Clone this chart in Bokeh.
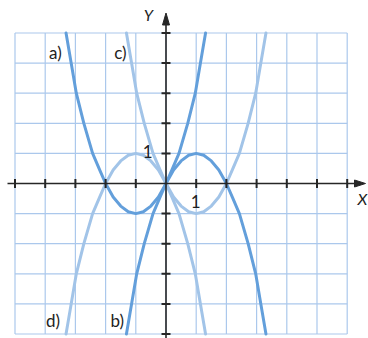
from bokeh.plotting import figure
from bokeh.models import Range1d, Label
from bokeh.embed import file_html
from bokeh.resources import INLINE

# ---- data ----
grid_x = [-5, -4, -3, -2, -1, 0, 1, 2, 3, 4, 5, 6]
grid_y = [-5, -4, -3, -2, -1, 0, 1, 2, 3, 4, 5]

a_x = [-3.31, -3.14, -2.97, -2.72, -2.43, -2.2, -2.0, -1.75, -1.5, -1.25, -1.0,
       -0.75, -0.5, -0.25, 0.0, 0.2, 0.43, 0.72, 0.97, 1.14, 1.31]
a_y = [5, 4, 3, 2, 1, 0.46, 0, -0.45, -0.75, -0.94, -1,
       -0.94, -0.75, -0.45, 0, 0.46, 1, 2, 3, 4, 5]

b_x = [-1.31, -1.14, -0.97, -0.72, -0.43, -0.2, 0.0, 0.25, 0.5, 0.75, 1.0,
       1.25, 1.5, 1.75, 2.0, 2.2, 2.43, 2.72, 2.97, 3.14, 3.31]
b_y = [-5, -4, -3, -2, -1, -0.46, 0, 0.45, 0.75, 0.94, 1,
       0.94, 0.75, 0.45, 0, -0.46, -1, -2, -3, -4, -5]

c_x = [-1.31, -1.14, -0.97, -0.72, -0.43, -0.2, 0.0, 0.25, 0.5, 0.75, 1.0,
       1.25, 1.5, 1.75, 2.0, 2.2, 2.43, 2.72, 2.97, 3.14, 3.31]
c_y = [5, 4, 3, 2, 1, 0.46, 0, -0.45, -0.75, -0.94, -1,
       -0.94, -0.75, -0.45, 0, 0.46, 1, 2, 3, 4, 5]

d_x = [-3.31, -3.14, -2.97, -2.72, -2.43, -2.2, -2.0, -1.75, -1.5, -1.25, -1.0,
       -0.75, -0.5, -0.25, 0.0, 0.2, 0.43, 0.72, 0.97, 1.14, 1.31]
d_y = [-5, -4, -3, -2, -1, -0.46, 0, 0.45, 0.75, 0.94, 1,
       0.94, 0.75, 0.45, 0, -0.46, -1, -2, -3, -4, -5]

curve_labels = ["a)", "c)", "d)", "b)"]
label_x = [-3.66, -1.51, -3.74, -1.61]
label_y = [4.36, 4.36, -4.55, -4.55]

# ---- layout ----
W, H = 368, 338
SX, SY = 30.2, 30.1          # px per unit
OX, OY = 165.5, 183          # origin on the canvas (px)
x0 = -OX / SX
x1 = x0 + W / SX
y1 = OY / SY
y0 = y1 - H / SY

DARK = "#639fdb"
LIGHT = "#a2c4e8"
GRID = "#abc8ec"
AXIS = "#262626"

p = figure(width=W, height=H, x_range=Range1d(x0, x1), y_range=Range1d(y0, y1),
           output_backend="svg", toolbar_location=None, min_border=0,
           x_axis_type=None, y_axis_type=None)
p.outline_line_color = None
p.background_fill_color = "white"
p.border_fill_color = "white"

# grid
gx0, gx1 = grid_x[0], grid_x[-1]
gy0, gy1 = grid_y[0], grid_y[-1]
p.segment(x0=grid_x, y0=[gy0] * len(grid_x), x1=grid_x, y1=[gy1] * len(grid_x),
          line_color=GRID, line_width=1.2)
p.segment(x0=[gx0] * len(grid_y), y0=grid_y, x1=[gx1] * len(grid_y), y1=grid_y,
          line_color=GRID, line_width=1.2)

# curves
for xs, ys, col in [(c_x, c_y, LIGHT), (d_x, d_y, LIGHT),
                    (a_x, a_y, DARK), (b_x, b_y, DARK)]:
    p.line(xs, ys, line_color=col, line_width=3, line_join="round", line_cap="round")

# axes
x_start = (7 - OX) / SX
x_tip = (365 - OX) / SX
y_tip = (OY - 12.5) / SY
head_len_x = 11 / SX
head_half_x = 3.5 / SY
head_len_y = 12 / SY
head_half_y = 3.5 / SX
p.line([x_start, x_tip - head_len_x], [0, 0], line_color=AXIS, line_width=1.6)
p.line([0, 0], [y0, y_tip - head_len_y], line_color=AXIS, line_width=1.6)
p.patch([x_tip, x_tip - head_len_x, x_tip - head_len_x],
        [0, head_half_x, -head_half_x], fill_color=AXIS, line_color=AXIS)
p.patch([0, head_half_y, -head_half_y],
        [y_tip, y_tip - head_len_y, y_tip - head_len_y], fill_color=AXIS, line_color=AXIS)

tx = [v for v in grid_x if v != 0]
ty = [v for v in grid_y if v != 0]
tick_h = 4.5 / SY
tick_w = 4.5 / SX
p.segment(x0=tx, y0=[-tick_h] * len(tx), x1=tx, y1=[tick_h] * len(tx),
          line_color=AXIS, line_width=2)
p.segment(x0=[-tick_w] * len(ty), y0=ty, x1=[tick_w] * len(ty), y1=ty,
          line_color=AXIS, line_width=2)

FONT = "Lato"
TXT = "#1e1e1e"
for t, lx, ly in zip(curve_labels, label_x, label_y):
    p.add_layout(Label(x=lx, y=ly, text=t, text_font=FONT, text_font_size="17px",
                       text_align="center", text_baseline="middle", text_color=TXT))

p.add_layout(Label(x=-0.61, y=1.06, text="1", text_font=FONT, text_font_size="17px",
                   text_align="center", text_baseline="middle", text_color=TXT))
p.add_layout(Label(x=0.98, y=-0.6, text="1", text_font=FONT, text_font_size="17px",
                   text_align="center", text_baseline="middle", text_color=TXT))
p.add_layout(Label(x=-0.58, y=5.6, text="Y", text_font=FONT, text_font_size="16px",
                   text_font_style="italic", text_align="center", text_baseline="middle",
                   text_color=TXT))
p.add_layout(Label(x=6.34, y=-0.5, text="X", text_font=FONT, text_font_size="16px",
                   text_font_style="italic", text_align="left", text_baseline="middle",
                   text_color=TXT))

open("out.html", "w").write(file_html(p, INLINE))
